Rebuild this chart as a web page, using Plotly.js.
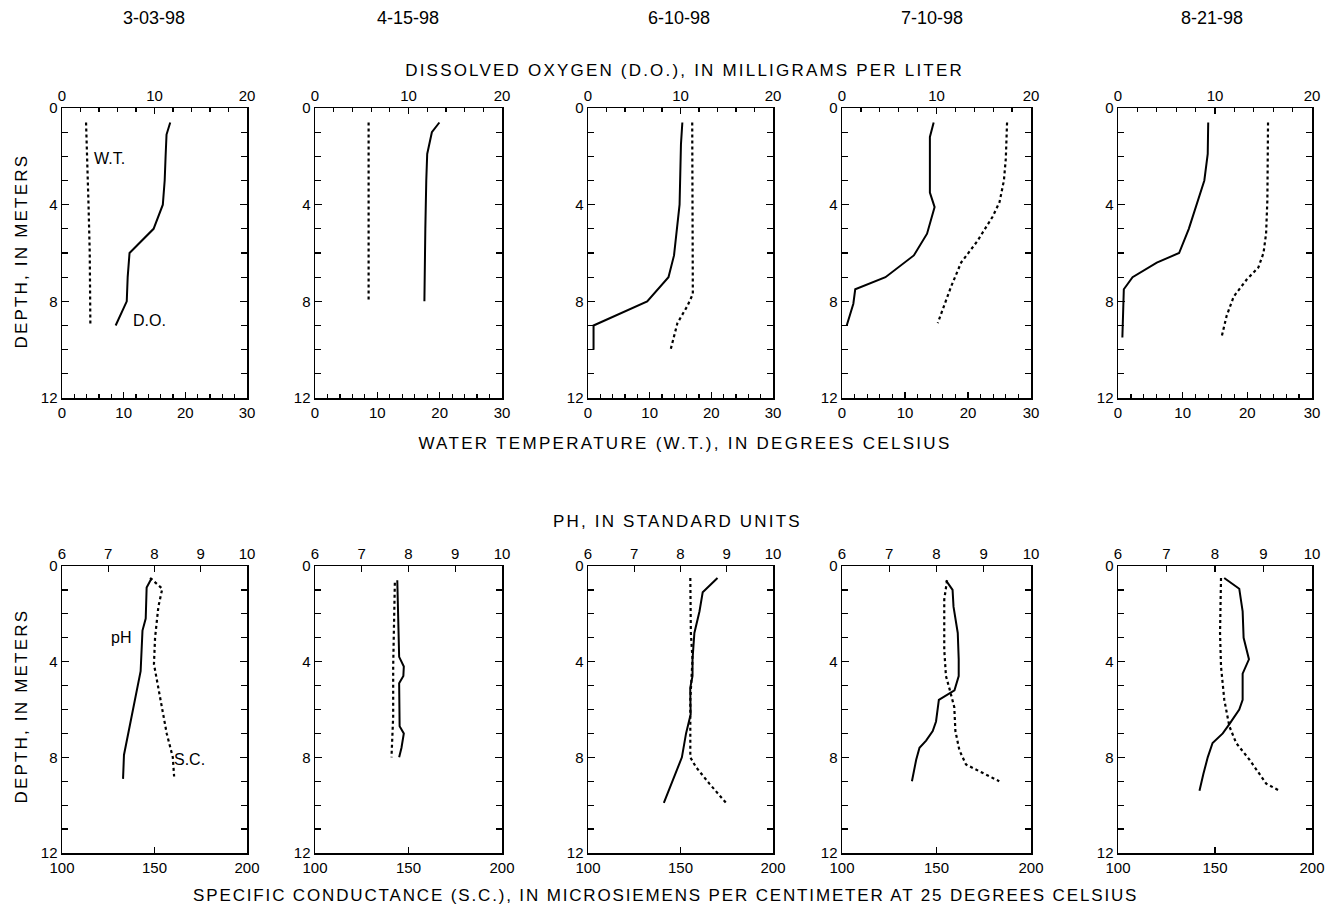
<!DOCTYPE html>
<html>
<head>
<meta charset="utf-8">
<script src="https://cdn.plot.ly/plotly-3.0.1.min.js"></script>
<style>html,body{margin:0;padding:0;background:#fff;}#chart{width:1337px;height:910px;}</style>
</head>
<body>
<div id="chart"></div>
<script>
// ---- Data ----
const dates = ['3-03-98', '4-15-98', '6-10-98', '7-10-98', '8-21-98'];

// Dissolved oxygen (mg/L) profiles
const do1_depth = [0.6, 1.1, 2, 3, 4, 5, 6, 7, 8, 9];
const do1 = [11.7, 11.3, 11.2, 11.1, 10.9, 9.9, 7.3, 7.1, 7.0, 5.8];
const do2_depth = [0.6, 1.0, 1.9, 3, 5, 8];
const do2 = [13.3, 12.5, 12.0, 11.9, 11.8, 11.7];
const do3_depth = [0.6, 1.5, 4, 6.1, 7, 8, 9, 10];
const do3 = [10.2, 10.05, 9.9, 9.3, 8.7, 6.4, 0.6, 0.6];
const do4_depth = [0.6, 1.2, 3.5, 4.1, 5.2, 6.1, 7, 7.5, 8.1, 9];
const do4 = [9.7, 9.3, 9.3, 9.8, 9.0, 7.6, 4.6, 1.4, 1.2, 0.5];
const do5_depth = [0.6, 1.9, 3, 4.4, 5, 6, 6.4, 7, 7.5, 9.5];
const do5 = [9.3, 9.25, 8.9, 7.8, 7.3, 6.3, 4.0, 1.5, 0.6, 0.45];

// Water temperature (deg C) profiles
const wt1_depth = [0.6, 2, 4, 6, 9];
const wt1 = [3.9, 4.1, 4.3, 4.5, 4.6];
const wt2_depth = [0.6, 4, 8];
const wt2 = [8.6, 8.6, 8.6];
const wt3_depth = [0.6, 3.8, 7.7, 8.2, 8.9, 10];
const wt3 = [16.9, 17.0, 17.0, 16.1, 14.5, 13.4];
const wt4_depth = [0.6, 2.1, 3, 3.9, 4.5, 5.5, 6.4, 7.4, 8.9];
const wt4 = [26.2, 26.0, 25.7, 25.0, 23.9, 21.5, 18.9, 17.3, 15.2];
const wt5_depth = [0.6, 3.8, 5.2, 6, 6.6, 7.1, 7.8, 8.6, 9.5];
const wt5 = [23.2, 23.1, 22.9, 22.5, 21.7, 19.9, 17.9, 16.8, 16.0];

// pH profiles
const ph1_depth = [0.5, 0.9, 2.2, 2.7, 4.4, 5.9, 6.9, 7.9, 8.9];
const ph1 = [7.94, 7.83, 7.81, 7.74, 7.7, 7.54, 7.43, 7.34, 7.32];
const ph2_depth = [0.6, 2.5, 3.8, 4.2, 4.6, 4.9, 6.7, 7.0, 7.6, 8.0];
const ph2 = [7.76, 7.78, 7.8, 7.9, 7.89, 7.8, 7.81, 7.9, 7.85, 7.8];
const ph3_depth = [0.5, 1.1, 1.9, 2.8, 3.9, 4.6, 5.1, 6.2, 7.0, 8.0, 9.9];
const ph3 = [8.8, 8.48, 8.41, 8.3, 8.26, 8.26, 8.21, 8.22, 8.12, 8.03, 7.64];
const ph4_depth = [0.6, 1.0, 1.7, 2.8, 3.9, 4.6, 5.2, 5.5, 5.6, 6.5, 6.9, 7.3, 7.6, 8.1, 9.0];
const ph4 = [8.2, 8.34, 8.36, 8.45, 8.47, 8.47, 8.38, 8.13, 8.05, 7.99, 7.92, 7.78, 7.64, 7.57, 7.48];
const ph5_depth = [0.5, 0.95, 1.9, 3.0, 3.9, 4.5, 5.6, 6.0, 6.6, 7.0, 7.4, 8.0, 8.7, 9.4];
const ph5 = [8.19, 8.5, 8.57, 8.59, 8.7, 8.57, 8.57, 8.5, 8.3, 8.16, 7.95, 7.85, 7.76, 7.68];

// Specific conductance (uS/cm) profiles
const sc1_depth = [0.5, 0.95, 1.7, 3.0, 4.1, 5.1, 6.2, 7.0, 8.0, 8.8];
const sc1 = [147.6, 154.2, 152.1, 150.3, 149.7, 152.1, 154.8, 156.6, 159.9, 160.6];
const sc2_depth = [0.7, 4.2, 6.3, 8.0];
const sc2 = [142.7, 141.8, 141.8, 140.9];
const sc3_depth = [0.5, 2.8, 3.9, 5.6, 8.0, 8.4, 9.1, 9.9];
const sc3 = [155.3, 155.6, 156.5, 155.3, 155.3, 158.3, 165.6, 174.6];
const sc4_depth = [0.6, 1.4, 3.5, 4.6, 5.2, 5.9, 6.9, 7.7, 8.3, 8.7, 9.0];
const sc4 = [155.6, 154.1, 154.1, 155.0, 157.1, 159.4, 160.0, 162.1, 165.6, 175.3, 183.2];
const sc5_depth = [0.5, 2.8, 4.2, 5.6, 6.7, 7.4, 8.1, 8.7, 9.1, 9.4];
const sc5 = [153.1, 152.6, 153.1, 154.8, 157.4, 160.9, 167.8, 172.9, 176.4, 183.3];

const doSeries = [[do1, do1_depth], [do2, do2_depth], [do3, do3_depth], [do4, do4_depth], [do5, do5_depth]];
const wtSeries = [[wt1, wt1_depth], [wt2, wt2_depth], [wt3, wt3_depth], [wt4, wt4_depth], [wt5, wt5_depth]];
const phSeries = [[ph1, ph1_depth], [ph2, ph2_depth], [ph3, ph3_depth], [ph4, ph4_depth], [ph5, ph5_depth]];
const scSeries = [[sc1, sc1_depth], [sc2, sc2_depth], [sc3, sc3_depth], [sc4, sc4_depth], [sc5, sc5_depth]];

// ---- Layout geometry (pixels) ----
const W = 1337, H = 910;
const colPx = [[62, 247], [315, 502], [588, 773], [842, 1031], [1118, 1312]];
const rowPx = [[108, 398], [566, 853]];
const FONT = 'Liberation Sans, Arial, sans-serif';
const tickFont = {family: FONT, size: 15, color: '#000'};

const xd = p => [p[0] / W, p[1] / W];
const yd = p => [1 - p[1] / H, 1 - p[0] / H];

const traces = [];
const layout = {
  width: W, height: H,
  margin: {l: 0, r: 0, t: 0, b: 0},
  paper_bgcolor: '#fff', plot_bgcolor: '#fff',
  showlegend: false,
  font: {family: FONT, color: '#000'},
  annotations: []
};

for (let r = 0; r < 2; r++) {
  for (let c = 0; c < 5; c++) {
    const k = r * 5 + c;
    const bx = 2 * k + 1, tx = 2 * k + 2, yy = k + 1;
    const bxId = bx === 1 ? 'x' : 'x' + bx;
    const txId = 'x' + tx;
    const yId = yy === 1 ? 'y' : 'y' + yy;
    const bxKey = bx === 1 ? 'xaxis' : 'xaxis' + bx;
    const txKey = 'xaxis' + tx;
    const yKey = yy === 1 ? 'yaxis' : 'yaxis' + yy;

    const top = r === 0
      ? {range: [0, 20], tickvals: [0, 10, 20], minor: {dtick: 2, tick0: 0, ticks: 'inside', ticklen: 4, tickcolor: '#000'}}
      : {range: [6, 10], tickvals: [6, 7, 8, 9, 10]};
    const bot = r === 0
      ? {range: [0, 30], tickvals: [0, 10, 20, 30], minor: {dtick: 2, tick0: 0, ticks: 'inside', ticklen: 4, tickcolor: '#000'}}
      : {range: [100, 200], tickvals: [100, 150, 200]};

    layout[bxKey] = Object.assign({
      domain: xd(colPx[c]), anchor: yId, side: 'bottom',
      showline: true, linecolor: '#000', linewidth: 1.5,
      ticks: 'inside', ticklen: 6, tickcolor: '#000', tickwidth: 1.2,
      showgrid: false, zeroline: false, tickfont: tickFont, fixedrange: true
    }, bot);
    layout[txKey] = Object.assign({
      domain: xd(colPx[c]), anchor: yId, overlaying: bxId, side: 'top',
      showline: true, linecolor: '#000', linewidth: 1.5,
      ticks: 'inside', ticklen: 6, tickcolor: '#000', tickwidth: 1.2,
      showgrid: false, zeroline: false, tickfont: tickFont, fixedrange: true
    }, top);
    layout[yKey] = {
      domain: yd(rowPx[r]), anchor: bxId, range: [12, 0],
      tickvals: [0, 4, 8, 12],
      showline: true, mirror: 'ticks', linecolor: '#000', linewidth: 1.5,
      ticks: 'inside', ticklen: 7, tickcolor: '#000', tickwidth: 1.2,
      minor: {dtick: 1, tick0: 0, ticks: 'inside', ticklen: 6, tickcolor: '#000'},
      showgrid: false, zeroline: false, tickfont: tickFont, fixedrange: true
    };

    const solid = r === 0 ? doSeries[c] : phSeries[c];
    const dotted = r === 0 ? wtSeries[c] : scSeries[c];
    traces.push({
      x: solid[0], y: solid[1], xaxis: txId, yaxis: yId,
      type: 'scatter', mode: 'lines', line: {color: '#000', width: 2}, hoverinfo: 'skip'
    });
    traces.push({
      x: dotted[0], y: dotted[1], xaxis: bxId, yaxis: yId,
      type: 'scatter', mode: 'lines', line: {color: '#000', width: 2.2, dash: 'dot'}, hoverinfo: 'skip'
    });
  }
}

// Date labels
const dateX = [154, 408, 679, 932, 1212];
dates.forEach((d, i) => {
  layout.annotations.push({
    text: d, xref: 'paper', yref: 'paper', x: dateX[i] / W, y: 1 - 18 / H,
    showarrow: false, xanchor: 'center', yanchor: 'middle',
    font: {family: FONT, size: 18, color: '#000'}
  });
});

const titleFont = {family: FONT, size: 17, color: '#000'};
const spacing = {};
const titles = [
  ['DISSOLVED OXYGEN (D.O.), IN MILLIGRAMS PER LITER', 684, 71, 2.2],
  ['WATER TEMPERATURE (W.T.), IN DEGREES CELSIUS', 685, 443, 2.3],
  ['PH, IN STANDARD UNITS', 677, 521, 2.2],
  ['SPECIFIC CONDUCTANCE (S.C.), IN MICROSIEMENS PER CENTIMETER AT 25 DEGREES CELSIUS', 665, 895, 1.85]
];
titles.forEach(t => {
  spacing[t[0]] = t[3];
  layout.annotations.push({
    text: t[0], xref: 'paper', yref: 'paper', x: t[1] / W, y: 1 - t[2] / H,
    showarrow: false, xanchor: 'center', yanchor: 'middle', font: titleFont
  });
});

// Depth labels
spacing['DEPTH, IN METERS'] = 2.2;
[251, 706].forEach(yc => {
  layout.annotations.push({
    text: 'DEPTH, IN METERS', xref: 'paper', yref: 'paper', x: 21 / W, y: 1 - yc / H,
    showarrow: false, textangle: -90, xanchor: 'center', yanchor: 'middle', font: titleFont
  });
});

// In-panel series labels
const inFont = {family: FONT, size: 16, color: '#000'};
layout.annotations.push({text: 'W.T.', xref: 'x', yref: 'y', x: 4.8, y: 2.1, showarrow: false, xanchor: 'left', yanchor: 'middle', font: inFont});
layout.annotations.push({text: 'D.O.', xref: 'x', yref: 'y', x: 14.2, y: 8.8, showarrow: false, xanchor: 'center', yanchor: 'middle', font: inFont});
layout.annotations.push({text: 'pH', xref: 'x12', yref: 'y6', x: 7.27, y: 3.0, showarrow: false, xanchor: 'center', yanchor: 'middle', font: inFont});
layout.annotations.push({text: 'S.C.', xref: 'x11', yref: 'y6', x: 169, y: 8.1, showarrow: false, xanchor: 'center', yanchor: 'middle', font: inFont});

Plotly.newPlot('chart', traces, layout, {staticPlot: true, displayModeBar: false}).then(gd => {
  gd.querySelectorAll('text.annotation-text').forEach(t => {
    const s = spacing[t.textContent];
    if (s !== undefined) {
      t.style.letterSpacing = s + 'px';
    }
  });
});
</script>
</body>
</html>
